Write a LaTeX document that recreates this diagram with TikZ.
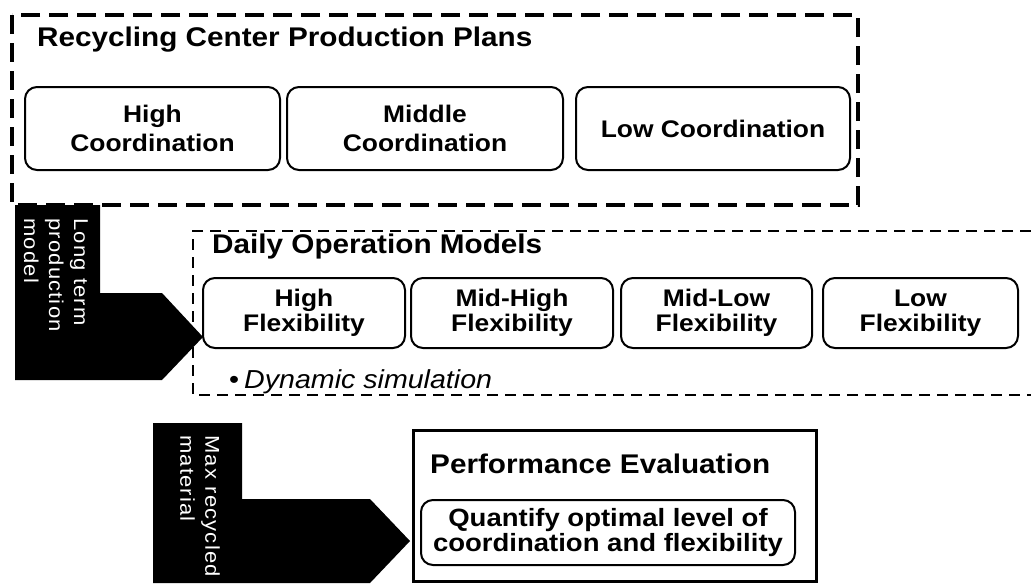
\documentclass[tikz,border=0pt]{standalone}
\usepackage{fontspec}
\setmainfont{Liberation Sans}[FakeStretch=1.1]
\usepackage{tikz}
\usetikzlibrary{positioning}

\begin{document}
\begin{tikzpicture}[x=1pt, y=-1pt,
  plan/.style={draw, line width=2pt, rounded corners=12pt, align=center, inner sep=0pt, outer sep=0pt, font=\fontsize{24}{29}\selectfont\bfseries},
  flex/.style={plan, minimum height=70pt, font=\fontsize{24}{25}\selectfont\bfseries},
  heading/.style={anchor=west, inner sep=0pt, font=\fontsize{27}{30}\selectfont\bfseries},
  bigarrow/.style={fill=black, draw=none},
  arrowtext/.style={rotate=-90, anchor=north west, inner sep=0pt, text=white, align=left, font=\fontsize{20}{25}\selectfont\addfontfeature{LetterSpace=6}}]
\useasboundingbox (0,0) rectangle (1031,587);

%Production plans
\draw[line width=3.5pt, dash pattern=on 19pt off 9pt] (12,15) rectangle (858,205);
\node[heading] (plantitle) at (37,40) {Recycling Center Production Plans};
\node[plan, minimum width=255pt, minimum height=83pt, anchor=north west] (hicoord) at (25,87) {High\\Coordination};
\node[plan, minimum width=276pt, minimum height=83pt, right=7pt of hicoord] (midcoord) {Middle\\Coordination};
\node[plan, minimum width=274pt, minimum height=83pt, right=13pt of midcoord] (locoord) {Low Coordination};

%Long term arrow
\draw[bigarrow] (15,205) -- (100,205) -- (100,293) -- (162,293) -- (203,337) -- (162,380) -- (15,380) -- cycle;
\node[arrowtext] (longterm) at (88,218) {Long term\\production\\model};

%Daily operation
\draw[line width=2pt, dash pattern=on 11pt off 7pt] (1031,231) -- (193,231) -- (193,395) -- (1031,395);
\node[heading] (dailytitle) at (212,247) {Daily Operation Models};
\node[flex, minimum width=202pt, anchor=north west] (hiflex) at (203,278) {High\\Flexibility};
\node[flex, minimum width=202pt, right=6pt of hiflex] (mhflex) {Mid-High\\Flexibility};
\node[flex, minimum width=191pt, right=8pt of mhflex] (mlflex) {Mid-Low\\Flexibility};
\node[flex, minimum width=195pt, right=11pt of mlflex] (loflex) {Low\\Flexibility};
\node[anchor=west, inner sep=0pt, font=\fontsize{26}{30}\selectfont] (dynsim) at (229,382) {\textbullet\hspace{5pt}\textit{Dynamic simulation}};

%Max recycled arrow
\draw[bigarrow] (153,423) -- (242,423) -- (242,499) -- (370,499) -- (410,541) -- (370,583) -- (153,583) -- cycle;
\node[arrowtext] (maxrec) at (220,435) {Max recycled\\material};

%Evaluation
\node[draw, line width=3pt, minimum width=403pt, minimum height=151pt, anchor=north west] (perf) at (412,429) {};
\node[heading] (perftitle) at (430,464) {Performance Evaluation};
\node[plan, minimum width=374pt, minimum height=65pt, font=\fontsize{25}{25}\selectfont\bfseries] (quantify) at (608,532.5) {Quantify optimal level of\\coordination and flexibility};

\end{tikzpicture}
\end{document}
